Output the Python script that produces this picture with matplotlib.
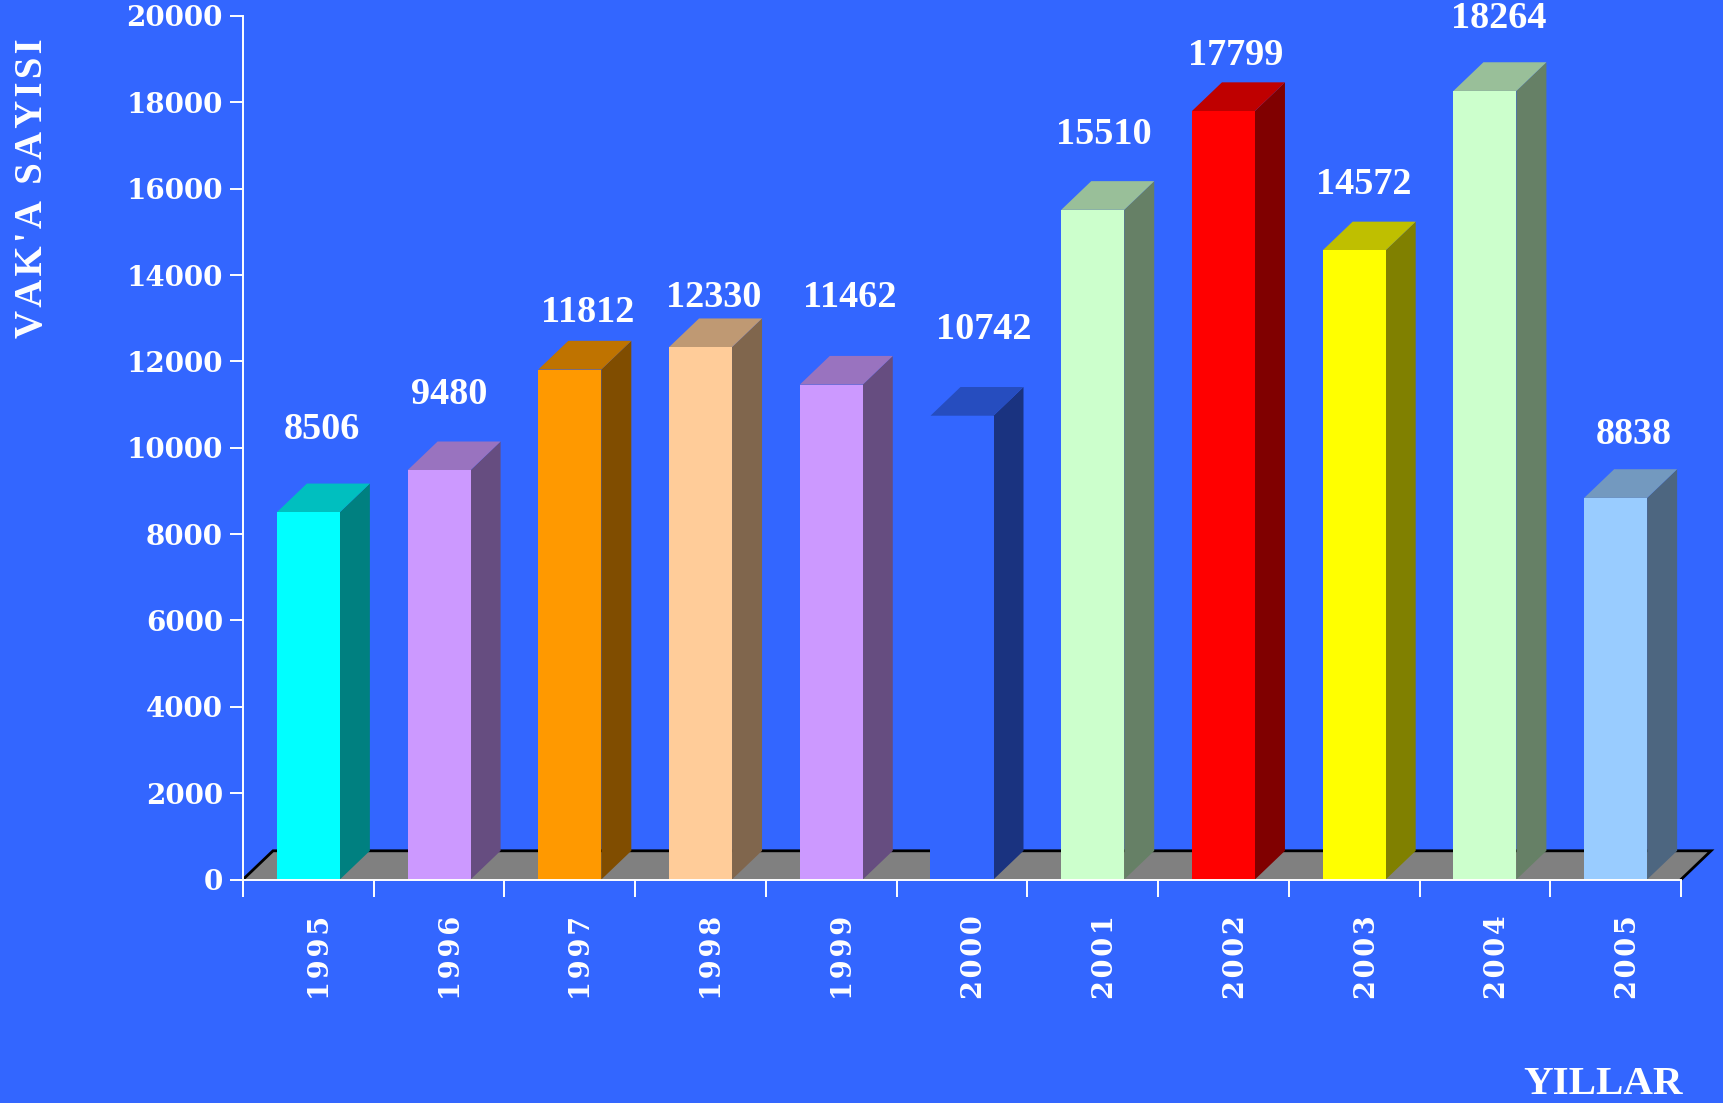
import matplotlib
matplotlib.use("Agg")
import matplotlib.pyplot as plt
from matplotlib.patches import Polygon
from matplotlib.colors import to_rgb

years = ["1995", "1996", "1997", "1998", "1999", "2000", "2001", "2002", "2003", "2004", "2005"]
cases = [8506, 9480, 11812, 12330, 11462, 10742, 15510, 17799, 14572, 18264, 8838]
bar_colors = ["#00FFFF", "#CC99FF", "#FF9900", "#FFCC99", "#CC99FF", "#3366FF",
              "#CCFFCC", "#FF0000", "#FFFF00", "#CCFFCC", "#99CCFF"]
y_ticks = list(range(0, 20001, 2000))
# irregular placement of the value labels, in pixels from the bar's top-back edge / centre
label_gap = [45, 38, 19, 11, 49, 48, 37, 17, 28, 34, 25]
label_dx = [14, 10, 18, 13, 18, 22, 11, 12, 10, 14, 18]

W, H = 1723, 1103
BG = "#3366FF"
L, R, Y0, Y1 = 243, 1681, 879.5, 16
SERIF = ["Liberation Serif", "DejaVu Serif"]
WIDE = "DejaVu Serif"
HAIR = "\u200a"

fig = plt.figure(figsize=(W / 100, H / 100), dpi=100, facecolor=BG)
ax = fig.add_axes([L / W, 1 - Y0 / H, (R - L) / W, (Y0 - Y1) / H], facecolor="none")
ax.set_xlim(0, len(years))
ax.set_ylim(0, 20000)

px_x = (R - L) / len(years)
px_y = (Y0 - Y1) / 20000
dx = 30 / px_x
dy = 28.7 / px_y
bw = 63 / px_x
n = len(years)


def shade(c, f):
    return tuple(v * f for v in to_rgb(c))


# floor
ax.add_patch(Polygon([(0, 0), (n, 0), (n + dx, dy), (dx, dy)], closed=True, fc="#808080",
                     ec="none", clip_on=False, zorder=1))
ax.plot([0, dx, n + dx, n], [0, dy, dy, 0], color="black", lw=2, clip_on=False, zorder=1.5,
        solid_joinstyle="miter")

# 3D bars
for i, (v, c) in enumerate(zip(cases, bar_colors)):
    x0 = i + 0.5 - bw / 2
    x1 = x0 + bw
    z = 2 + i * 0.01
    ax.add_patch(Polygon([(x1, 0), (x1 + dx, dy), (x1 + dx, v + dy), (x1, v)], closed=True,
                         fc=shade(c, 0.5), ec="none", clip_on=False, zorder=z))
    ax.add_patch(Polygon([(x0, v), (x1, v), (x1 + dx, v + dy), (x0 + dx, v + dy)], closed=True,
                         fc=shade(c, 0.75), ec="none", clip_on=False, zorder=z))
    ax.add_patch(Polygon([(x0, 0), (x1, 0), (x1, v), (x0, v)], closed=True,
                         fc=c, ec="none", clip_on=False, zorder=z))
    ax.annotate(str(v), xy=(i + 0.5, v + dy), xytext=(label_dx[i], label_gap[i]),
                xycoords="data", textcoords="offset pixels", ha="center", va="baseline",
                color="white", fontsize=27.5, fontweight="bold", family=SERIF,
                annotation_clip=False, zorder=5)
    ax.annotate(HAIR.join(years[i]), xy=(i + 0.5, 0), xytext=(13, -36), xycoords="data",
                textcoords="offset pixels", ha="center", va="top", rotation=90,
                color="white", fontsize=19.5, fontweight="bold", family=[WIDE, "DejaVu Sans"],
                annotation_clip=False, zorder=5)

# axes
for s in ("top", "right"):
    ax.spines[s].set_visible(False)
for s in ("left", "bottom"):
    ax.spines[s].set_color("white")
    ax.spines[s].set_linewidth(1.4)
    ax.spines[s].set_zorder(4)
ax.set_yticks(y_ticks)
ax.set_yticklabels([str(t) for t in y_ticks], family=WIDE, fontweight="bold", fontsize=20,
                   color="white")
ax.set_xticks(range(n + 1))
ax.set_xticklabels([])
ax.tick_params(axis="y", color="white", width=1.4, length=9.4, pad=5)
ax.tick_params(axis="x", color="white", width=1.4, length=12.2)

# axis titles
fig.text(33 / W, 1 - 188 / H, HAIR.join("VAK'A SAYISI"), rotation=90, ha="center", va="center",
         color="white", fontsize=28, fontweight="bold", family=SERIF)
fig.text(1683 / W, 0.0, "YILLAR", ha="right", va="bottom",
         color="white", fontsize=29.5, fontweight="bold", family=SERIF)

fig.savefig("out.png", dpi=100, facecolor=BG)
